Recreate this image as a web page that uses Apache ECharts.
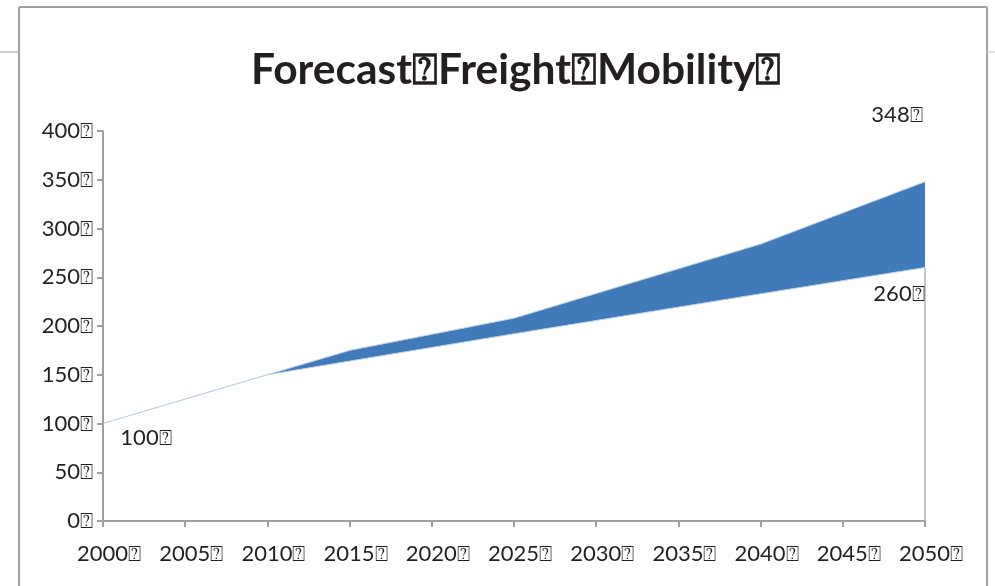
<!DOCTYPE html>
<html>
<head>
<meta charset="utf-8">
<script src="https://cdn.jsdelivr.net/npm/echarts@6/dist/echarts.min.js"></script>
<style>
html,body{margin:0;padding:0;background:#fff;}
#c{width:995px;height:586px;}
</style>
</head>
<body>
<div id="c"></div>
<script>
var BOX = '\u2370';
var title = 'Forecast' + BOX + 'Freight' + BOX + 'Mobility' + BOX;
var xTicks = [2000, 2005, 2010, 2015, 2020, 2025, 2030, 2035, 2040, 2045, 2050];
var yTicks = [0, 50, 100, 150, 200, 250, 300, 350, 400];
var upperYears = [2000, 2010, 2015, 2025, 2040, 2050];
var upperValues = [100, 150, 175, 208, 284, 348];
var lowerYears = [2000, 2010, 2015, 2025, 2040, 2050];
var lowerValues = [100, 150, 164, 192, 233, 260];
var labelPoints = [
  {year: 2000, value: 100, offset: [43, 14]},
  {year: 2050, value: 348, offset: [-28, -67]},
  {year: 2050, value: 260, offset: [-26, 26]}
];

var FONT = 'Lato';
var chart = echarts.init(document.getElementById('c'));
function pairs(xs, ys){ return xs.map(function(x,i){ return [x, ys[i]]; }); }

chart.setOption({
  animation: false,
  backgroundColor: '#fff',
  title: {
    text: title, left: 246, top: 44,
    textStyle: {fontFamily: FONT, fontWeight: 'bold', fontSize: 42.5, color: '#231f20'}
  },
  grid: {left: 103, right: 70, top: 131, bottom: 65},
  xAxis: {
    type: 'value', min: xTicks[0], max: xTicks[xTicks.length-1], interval: 5,
    z: 5,
    axisLine: {lineStyle: {color: '#a0a0a0', width: 2}},
    axisTick: {show: true, length: 6, lineStyle: {color: '#a0a0a0', width: 2}},
    splitLine: {show: false},
    axisLabel: {
      fontFamily: FONT, fontSize: 22, color: '#231f20', margin: 22,
      padding: [0, 0, 0, 12],
      formatter: function(v){ return v + BOX; }
    }
  },
  yAxis: {
    type: 'value', min: yTicks[0], max: yTicks[yTicks.length-1], interval: 50,
    z: 5,
    axisLine: {show: true, lineStyle: {color: '#a0a0a0', width: 2}},
    axisTick: {show: true, length: 6, lineStyle: {color: '#a0a0a0', width: 2}},
    splitLine: {show: false},
    axisLabel: {
      fontFamily: FONT, fontSize: 22, color: '#231f20', margin: 10,
      formatter: function(v){ return v + BOX; }
    }
  },
  graphic: [
    {type: 'line', shape: {x1: 19, y1: 7, x2: 19, y2: 586}, style: {stroke: '#a0a0a0', lineWidth: 2}},
    {type: 'line', shape: {x1: 19, y1: 7, x2: 987, y2: 7}, style: {stroke: '#a0a0a0', lineWidth: 2}},
    {type: 'line', shape: {x1: 987, y1: 7, x2: 987, y2: 586}, style: {stroke: '#a0a0a0', lineWidth: 2}},
    {type: 'line', shape: {x1: 0, y1: 52, x2: 19, y2: 52}, style: {stroke: '#a0a0a0', lineWidth: 1}},
    {type: 'line', shape: {x1: 987, y1: 52, x2: 995, y2: 52}, style: {stroke: '#c8c8c8', lineWidth: 1}}
  ],
  series: [
    {
      type: 'line', name: 'upper', data: pairs(upperYears, upperValues),
      showSymbol: false, symbol: 'none', z: 2,
      lineStyle: {color: '#bcd0e8', width: 1},
      areaStyle: {color: '#417ab9', opacity: 1}
    },
    {
      type: 'line', name: 'lower', data: pairs(lowerYears, lowerValues),
      showSymbol: false, symbol: 'none', z: 3,
      lineStyle: {color: '#bcd0e8', width: 1},
      areaStyle: {color: '#ffffff', opacity: 1},
      markLine: {
        silent: true, symbol: 'none', label: {show: false},
        lineStyle: {color: '#b4b4b4', width: 1.5, type: 'solid'},
        data: [[{coord: [lowerYears[lowerYears.length-1], 0]}, {coord: [lowerYears[lowerYears.length-1], lowerValues[lowerValues.length-1]]}]]
      },
      markPoint: {
        symbol: 'circle', symbolSize: 0,
        label: {show: true, position: 'inside', fontFamily: FONT, fontSize: 22, color: '#231f20',
          formatter: function(p){ return p.value + BOX; }},
        data: labelPoints.map(function(p){
          return {coord: [p.year, p.value], value: p.value, label: {offset: p.offset}};
        })
      }
    }
  ]
});
</script>
</body>
</html>
